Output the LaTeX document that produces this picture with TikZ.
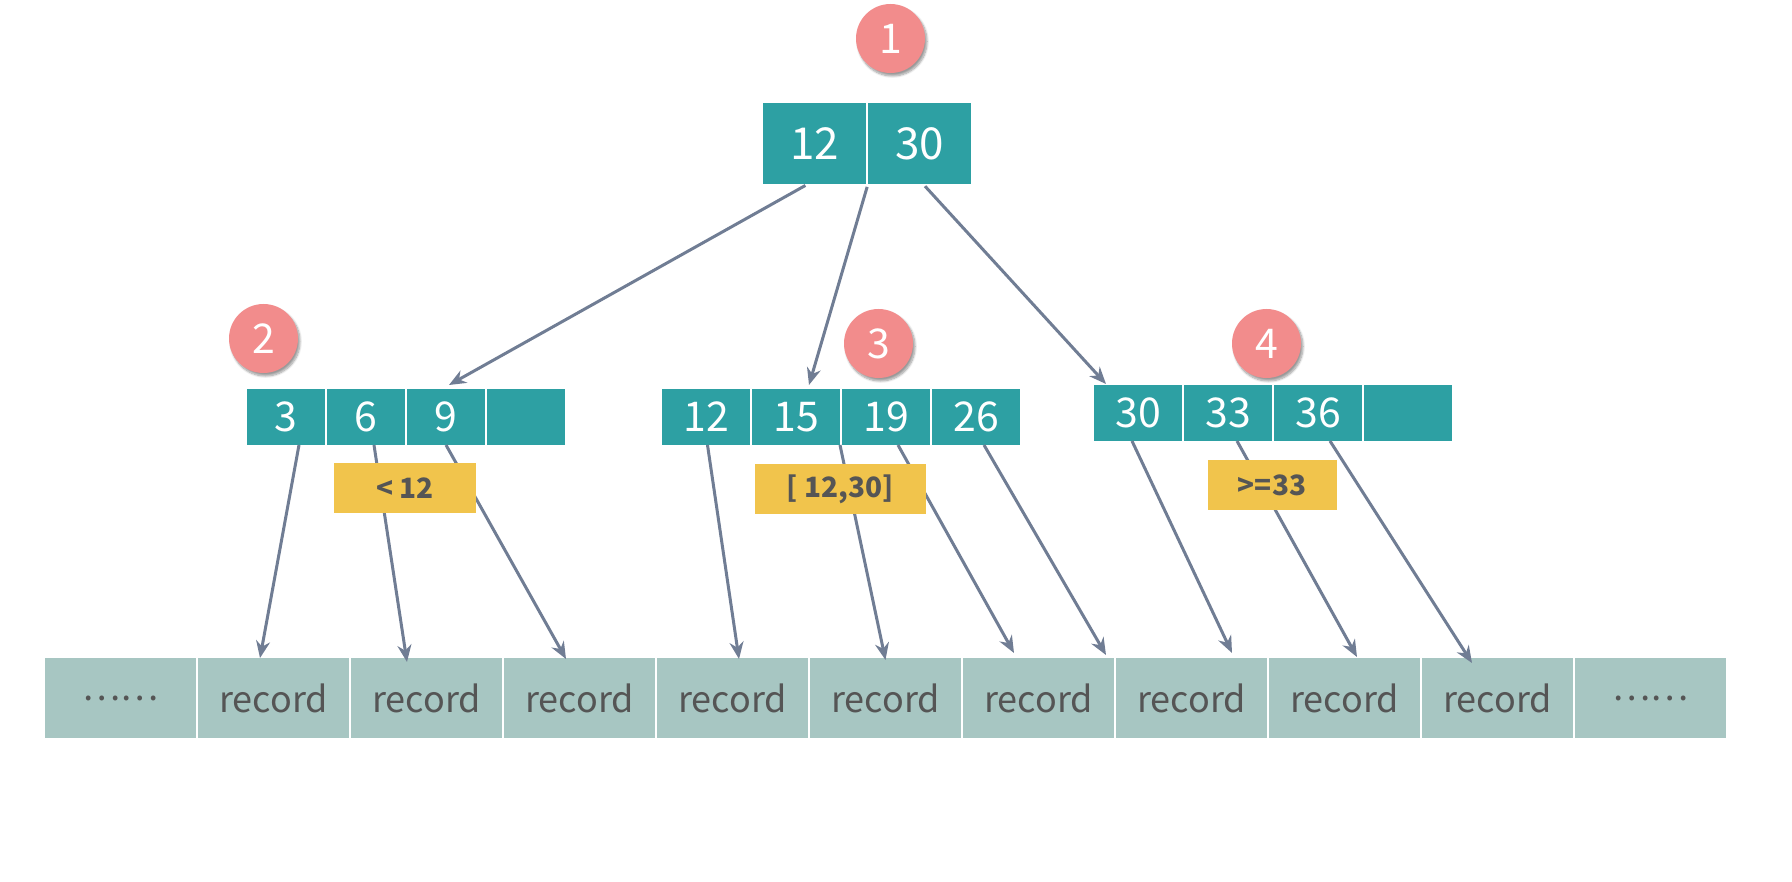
\documentclass[tikz,border=0pt]{standalone}
\usepackage{fontspec}
\setmainfont{Noto Sans CJK SC}
\usetikzlibrary{arrows.meta, positioning, shadows.blur}

\definecolor{keyteal}{HTML}{2DA0A3}
\definecolor{badgered}{HTML}{F28C8C}
\definecolor{tagyellow}{HTML}{F1C44C}
\definecolor{rowgreen}{HTML}{A7C6C2}
\definecolor{inkgray}{HTML}{555555}
\definecolor{linkgray}{HTML}{707D94}

\tikzset{
	key/.style={fill=keyteal, text=white, inner sep=0pt, outer sep=0pt, minimum width=88pt, minimum height=56pt, font=\fontsize{41}{41}\selectfont},
	rootkey/.style={key, minimum width=103pt, minimum height=81pt, font=\fontsize{44}{44}\selectfont},
	badge/.style={circle, fill=badgered, text=white, inner sep=0pt, minimum size=69pt, font=\fontsize{41}{41}\selectfont, blur shadow={shadow xshift=2pt, shadow yshift=-3pt, shadow blur steps=8}},
	tag/.style={fill=tagyellow, text=inkgray, inner sep=0pt, outer sep=0pt, minimum height=50pt, font=\bfseries\fontsize{28}{28}\selectfont},
	leaf/.style={fill=rowgreen, text=inkgray, inner sep=0pt, outer sep=0pt, minimum width=151pt, minimum height=80pt, font=\fontsize{36}{36}\selectfont},
	every edge/.style={draw=linkgray, line width=3pt},
}

\begin{document}
\begin{tikzpicture}[x=1pt, y=-1pt, ->, >={Stealth[length=17pt, width=14pt]}]

				\useasboundingbox (0,0) rectangle (1792,882);

				% root
				\node [rootkey, anchor=north west]	(r1)	at (763,103)		{12};
				\node [rootkey]	(r2)	[right = 2pt of r1]					{30};

				% inner nodes
				\node [key, minimum width=78pt, anchor=north west]	(a1)	at (247,389)	{3};
				\node [key, minimum width=78pt]	(a2)	[right = 2pt of a1]	{6};
				\node [key, minimum width=78pt]	(a3)	[right = 2pt of a2]	{9};
				\node [key, minimum width=78pt]	(a4)	[right = 2pt of a3]	{};

				\node [key, anchor=north west]	(b1)	at (662,389)	{12};
				\node [key]	(b2)	[right = 2pt of b1]					{15};
				\node [key]	(b3)	[right = 2pt of b2]					{19};
				\node [key]	(b4)	[right = 2pt of b3]					{26};

				\node [key, anchor=north west]	(c1)	at (1094,385)	{30};
				\node [key]	(c2)	[right = 2pt of c1]					{33};
				\node [key]	(c3)	[right = 2pt of c2]					{36};
				\node [key]	(c4)	[right = 2pt of c3]					{};

				% leaves
				\node [leaf, anchor=north west]	(d0)	at (45,658)	{……};
				\node [leaf]	(d1)	[right = 2pt of d0]	{record};
				\node [leaf]	(d2)	[right = 2pt of d1]	{record};
				\node [leaf]	(d3)	[right = 2pt of d2]	{record};
				\node [leaf]	(d4)	[right = 2pt of d3]	{record};
				\node [leaf]	(d5)	[right = 2pt of d4]	{record};
				\node [leaf]	(d6)	[right = 2pt of d5]	{record};
				\node [leaf]	(d7)	[right = 2pt of d6]	{record};
				\node [leaf]	(d8)	[right = 2pt of d7]	{record};
				\node [leaf]	(d9)	[right = 2pt of d8]	{record};
				\node [leaf]	(d10)	[right = 2pt of d9]	{……};

				% badges
				\node [badge]	(n1)	at (890.5,38.5)		{1};
				\node [badge]	(n2)	at (263.5,338.5)	{2};
				\node [badge]	(n3)	at (878.5,343.5)	{3};
				\node [badge]	(n4)	at (1266.5,343.5)	{4};

				\path [shorten <=3pt]
						([xshift=-6.5pt]r1.south)	edge	([xshift=3pt, yshift=4pt]a3.north)
						(r2.south west)				edge	([xshift=13pt, yshift=4pt]b2.north)
						([xshift=3.5pt]r2.south)	edge	([xshift=-32pt, yshift=1pt]c1.north)
				;

				\path
						([xshift=13pt]a1.south)		edge	([xshift=-13.5pt]d1.north)
						([xshift=8pt]a2.south)		edge	([xshift=-19.5pt, yshift=-4pt]d2.north)
						(a3.south)					edge	([xshift=-13.5pt, yshift=-1pt]d3.north)

						([xshift=1.5pt]b1.south)	edge	([xshift=6.5pt, yshift=-1pt]d4.north)
						(b2.south east)				edge	([yshift=-2pt]d5.north)
						([xshift=12pt]b3.south)		edge	([xshift=-24.5pt, yshift=5pt]d6.north)
						([xshift=8pt]b4.south)		edge	([xshift=-8pt, yshift=3pt]d6.north east)

						([xshift=-6pt]c1.south)		edge	([xshift=40.5pt, yshift=5pt]d7.north)
						([xshift=9pt]c2.south)		edge	([xshift=12.5pt, yshift=1pt]d8.north)
						([xshift=12pt]c3.south)		edge	([xshift=-25.5pt, yshift=-5pt]d9.north)
				;

				% ranges
				\node [tag, minimum width=142pt]	(t1)	[below = 18pt of a2.south east]	{< 12};
				\node [tag, minimum width=171pt]	(t2)	[below = 19pt of b2.south east]	{[ 12,30]};
				\node [tag, minimum width=129pt]	(t3)	[below = 19pt of c2.south east]	{>=33};

\end{tikzpicture}
\end{document}
